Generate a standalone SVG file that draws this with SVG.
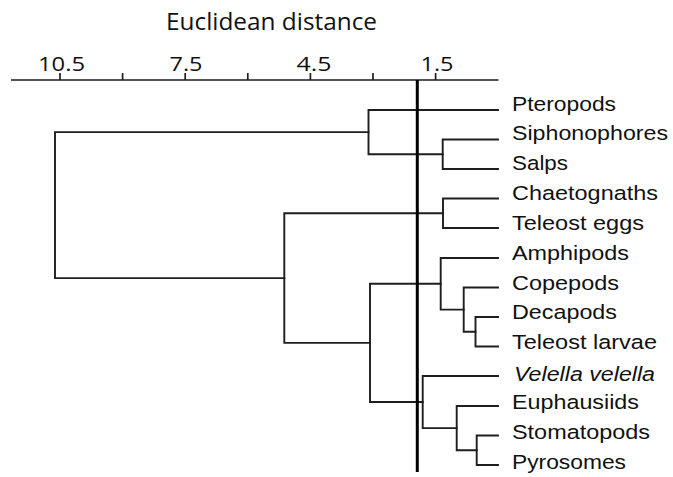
<svg xmlns="http://www.w3.org/2000/svg" width="673" height="477" viewBox="0 0 673 477">
<style>
.ln{fill:none;stroke:#1e1e1e;stroke-width:1.9;stroke-linejoin:miter;stroke-linecap:square}
.ax{fill:none;stroke:#1e1e1e;stroke-width:1.7}
.lab{font-family:"Liberation Sans",Arial,sans-serif;font-size:20.5px;fill:#111}
.ttl{font-family:"Open Sans","Noto Sans",sans-serif;fill:#111}
</style>
<rect width="673" height="477" fill="#fff"/>
<g id="axis">
<text class="ttl" x="166" y="30" font-size="23" textLength="211" lengthAdjust="spacingAndGlyphs">Euclidean distance</text>
<g class="ttl" font-size="20" text-anchor="middle">
<text x="61.5" y="70.5" textLength="47" lengthAdjust="spacingAndGlyphs">10.5</text>
<text x="186" y="70.5" textLength="33" lengthAdjust="spacingAndGlyphs">7.5</text>
<text x="314" y="70.5" textLength="35" lengthAdjust="spacingAndGlyphs">4.5</text>
<text x="437" y="70.5" textLength="33" lengthAdjust="spacingAndGlyphs">1.5</text>
</g>
<path class="ax" d="M11 80H498.5M60 80V73M122.6 80V73M185.2 80V73M247.8 80V73M310.4 80V73M373 80V73M435.6 80V73"/>
</g>
<g id="connectors">
<path class="ln" d="M498 139.5H442.7V169H498"/>
<path class="ln" d="M498 110H368.5V154.25H442.7"/>
<path class="ln" d="M498 198.5H443V228H498"/>
<path class="ln" d="M498 317H475.5V346.5H498"/>
<path class="ln" d="M498 287.5H463.7V331.75H475.5"/>
<path class="ln" d="M498 258H440.7V309.6H463.7"/>
<path class="ln" d="M498 435.5H476.7V465H498"/>
<path class="ln" d="M498 406H456.7V450.25H476.7"/>
<path class="ln" d="M498 376H422.7V428.1H456.7"/>
<path class="ln" d="M440.7 283.8H370V402H422.7"/>
<path class="ln" d="M443 213.25H284.3V342.9H370"/>
<path class="ln" d="M368.5 132.1H55V278.1H284.3"/>
</g>
<g id="cutoff"><line x1="417.3" y1="80" x2="417.3" y2="472" stroke="#000" stroke-width="3"/></g>
<g id="n-pteropods"><text class="lab" x="512" y="110.5" textLength="104" lengthAdjust="spacingAndGlyphs">Pteropods</text></g>
<g id="n-siphonophores"><text class="lab" x="512" y="140.3" textLength="156" lengthAdjust="spacingAndGlyphs">Siphonophores</text></g>
<g id="n-salps"><text class="lab" x="512" y="170.2" textLength="56" lengthAdjust="spacingAndGlyphs">Salps</text></g>
<g id="n-chaetognaths"><text class="lab" x="512" y="200" textLength="146" lengthAdjust="spacingAndGlyphs">Chaetognaths</text></g>
<g id="n-teleost-eggs"><text class="lab" x="512" y="229.8" textLength="132" lengthAdjust="spacingAndGlyphs">Teleost eggs</text></g>
<g id="n-amphipods"><text class="lab" x="512" y="259.7" textLength="117" lengthAdjust="spacingAndGlyphs">Amphipods</text></g>
<g id="n-copepods"><text class="lab" x="512" y="289.5" textLength="107" lengthAdjust="spacingAndGlyphs">Copepods</text></g>
<g id="n-decapods"><text class="lab" x="512" y="319.3" textLength="105" lengthAdjust="spacingAndGlyphs">Decapods</text></g>
<g id="n-teleost-larvae"><text class="lab" x="512" y="349.2" textLength="145" lengthAdjust="spacingAndGlyphs">Teleost larvae</text></g>
<g id="n-velella"><text class="lab" x="514" y="380.5" font-style="italic" textLength="141" lengthAdjust="spacingAndGlyphs">Velella velella</text></g>
<g id="n-euphausiids"><text class="lab" x="512" y="408.8" textLength="127" lengthAdjust="spacingAndGlyphs">Euphausiids</text></g>
<g id="n-stomatopods"><text class="lab" x="512" y="438.7" textLength="138" lengthAdjust="spacingAndGlyphs">Stomatopods</text></g>
<g id="n-pyrosomes"><text class="lab" x="512" y="468.5" textLength="114" lengthAdjust="spacingAndGlyphs">Pyrosomes</text></g>
</svg>
